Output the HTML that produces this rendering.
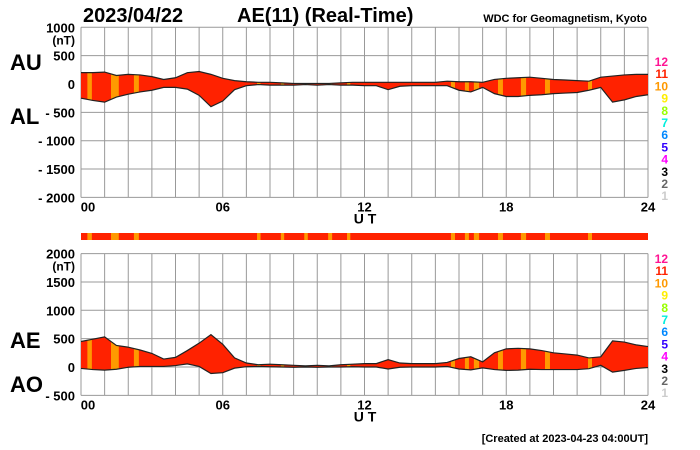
<!DOCTYPE html>
<html><head><meta charset="utf-8"><style>
body{margin:0;background:#fff;}
svg{display:block;font-family:"Liberation Sans",Arial,sans-serif;}
</style></head><body>
<svg id="c" width="700" height="450" viewBox="0 0 700 450" xmlns="http://www.w3.org/2000/svg"></svg>
<script>
const hours=[0,0.5,1,1.5,2,2.5,3,3.5,4,4.5,5,5.5,6,6.5,7,7.5,8,8.5,9,9.5,10,10.5,11,11.5,12,12.5,13,13.5,14,14.5,15,15.5,16,16.5,17,17.5,18,18.5,19,19.5,20,20.5,21,21.5,22,22.5,23,23.5,24];
const auValues=[200,200,210,150,170,160,130,80,110,200,220,170,100,60,40,30,30,20,10,10,10,10,20,30,30,30,30,30,30,30,30,50,40,40,30,80,100,110,120,100,80,70,60,50,120,140,160,170,170];
const alValues=[-250,-290,-320,-230,-180,-140,-110,-60,-60,-90,-200,-400,-300,-100,-30,-10,-20,-20,-20,-10,-20,-10,-20,-20,-30,-30,-100,-40,-30,-30,-30,-30,-110,-140,-60,-170,-220,-220,-200,-190,-170,-160,-150,-110,-60,-320,-280,-220,-190];
const orangeStart=[0.27,1.27,2.24,7.45,8.46,9.45,10.46,11.26,15.66,16.25,16.63,17.65,18.62,19.64,21.46];
const orangeEnd=[0.46,1.6,2.45,7.6,8.6,9.6,10.63,11.4,15.83,16.42,16.85,17.86,18.84,19.85,21.63];
const topTicks=[1000,500,0,-500,-1000,-1500,-2000];
const topTickLabels=["1000","500","0","- 500","- 1000","- 1500","- 2000"];
const botTicks=[2000,1500,1000,500,0,-500];
const botTickLabels=["2000","1500","1000","500","0","- 500"];
const xTicks=[0,6,12,18,24];
const xTickLabels=["00","06","12","18","24"];
const legendNums=["12","11","10","9","8","7","6","5","4","3","2","1"];
const legendColors=["#ff1493","#ff2200","#ff9900","#ffee00","#99ff00","#00eedd","#0088ff","#3300ff","#ff00ff","#000","#666","#ccc"];

const NS="http://www.w3.org/2000/svg";
const svg=document.getElementById('c');
function mk(tag,attrs,parent){const e=document.createElementNS(NS,tag);for(const k in attrs)e.setAttribute(k,attrs[k]);(parent||svg).appendChild(e);return e;}
const X0=81,X1=648;
const xs=h=>X0+(X1-X0)*h/24;
const yTop=v=>84-v*0.0567;
const yBot=v=>367-v*0.0567;
const RED="#ff2200",ORANGE="#ff9900";

function text(x,y,s,size,anchor,name,color){
  const t=mk('text',{x:x,y:y,'font-size':size,'font-weight':'bold','text-anchor':anchor||'start',fill:color||'#000'});
  t.textContent=s;
  
  
  return t;
}

function panel(yf,ticks,labels,upper,lower,yMinV,yMaxV,pname,axisLabelY){
  const g=mk('g',{});
  
  
  const yT=yf(yMaxV),yB=yf(yMinV);
  for(let h=0;h<=24;h++){const l=mk('line',{x1:xs(h),x2:xs(h),y1:yT,y2:yB,stroke:'#999','stroke-width':1},g);}
  ticks.forEach((v,i)=>{
    const l=mk('line',{x1:X0,x2:X1,y1:yf(v),y2:yf(v),stroke:'#999','stroke-width':1},g);
    
    
    text(75,yf(v)+5,labels[i],13,'end','y-tick-label');
  });
  text(75,yf(ticks[0])+17,'(nT)',12,'end','y-unit-label');
  let pts=hours.map((h,i)=>xs(h)+','+yf(upper[i]));
  let lowPts=hours.map((h,i)=>xs(h)+','+yf(lower[i])).reverse();
  const id='clip'+pname;
  const cp=mk('clipPath',{id:id},g);
  mk('polygon',{points:pts.concat(lowPts).join(' ')},cp);
  const area=mk('polygon',{points:pts.concat(lowPts).join(' '),fill:RED},g);
  
  
  orangeStart.forEach((s,i)=>{
    const r=mk('rect',{x:xs(s),y:yT,width:xs(orangeEnd[i])-xs(s),height:yB-yT,fill:ORANGE,'clip-path':'url(#'+id+')'},g);
    
    
  });
  const up=mk('polyline',{points:pts.join(' '),fill:'none',stroke:'#222','stroke-width':1.2},g);
  
  
  const lo=mk('polyline',{points:lowPts.join(' '),fill:'none',stroke:'#222','stroke-width':1.2},g);
  
  
  xTicks.forEach((h,i)=>text(i==0?88:xs(h),yB+14,xTickLabels[i],13,'middle','x-tick-label'));
  text(365,yB+26,'U T',14,'middle','x-axis-title');
  legendNums.forEach((n,i)=>text(668,axisLabelY+i*12.2,n,12,'end','legend-entry-'+n,legendColors[i]));
}

text(83,22,'2023/04/22',20,'start','date-title');
text(237,22,'AE(11) (Real-Time)',20,'start','chart-title');
text(647,22,'WDC for Geomagnetism, Kyoto',11,'end','source-label');
text(10,70,'AU',22,'start','au-label');
text(10,124,'AL',22,'start','al-label');
text(10,348,'AE',22,'start','ae-label');
text(10,392,'AO',22,'start','ao-label');

panel(yTop,topTicks,topTickLabels,auValues,alValues,-2000,1000,'au-al-panel',66);
const aeValues=auValues.map((u,i)=>u-alValues[i]);
const aoValues=auValues.map((u,i)=>(u+alValues[i])/2);
panel(yBot,botTicks,botTickLabels,aeValues,aoValues,-500,2000,'ae-ao-panel',263);

const bar=mk('g',{});


const br=mk('rect',{x:X0,y:233,width:X1-X0,height:7,fill:RED},bar);


orangeStart.forEach((s,i)=>{
  const r=mk('rect',{x:xs(s),y:233,width:xs(orangeEnd[i])-xs(s),height:7,fill:ORANGE},bar);
  
  
});
text(648,442,'[Created at 2023-04-23 04:00UT]',11,'end','created-label');
</script>
</body></html>
